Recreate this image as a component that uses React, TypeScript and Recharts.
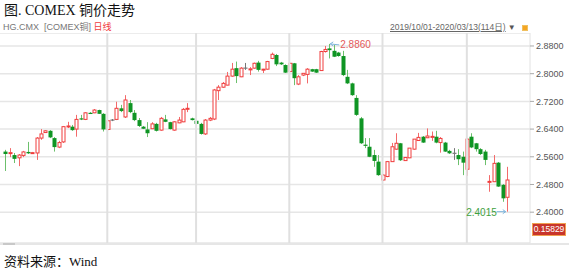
import React from "react";
import {
  ComposedChart, Bar, XAxis, YAxis, CartesianGrid, ReferenceLine, ReferenceDot,
} from "recharts";

// daily OHLC, COMEX copper, 2019/10/01 - 2020/03/13 (114 sessions)
const opens = [
  2.575, 2.570, 2.565, 2.557, 2.564, 2.574, 2.570, 2.571, 2.614, 2.630,
  2.635, 2.614, 2.588, 2.603, 2.647, 2.647, 2.640, 2.671, 2.668, 2.687,
  2.687, 2.695, 2.684, 2.639, 2.666, 2.668, 2.700, 2.675, 2.715, 2.687,
  2.666, 2.647, 2.639, 2.641, 2.655, 2.637, 2.668, 2.660, 2.637, 2.658,
  2.661, 2.699, 2.671, 2.664, 2.655, 2.626, 2.666, 2.669, 2.751, 2.761,
  2.767, 2.793, 2.816, 2.791, 2.816, 2.811, 2.816, 2.832, 2.811, 2.813,
  2.844, 2.854, 2.832, 2.825, 2.806, 2.830, 2.770, 2.796, 2.798, 2.813,
  2.813, 2.809, 2.864, 2.873, 2.866, 2.861, 2.851, 2.791, 2.772, 2.730,
  2.671, 2.595, 2.589, 2.565, 2.546, 2.493, 2.503, 2.546, 2.582, 2.599,
  2.549, 2.557, 2.582, 2.607, 2.618, 2.615, 2.616, 2.618, 2.601, 2.601,
  2.577, 2.570, 2.565, 2.560, 2.524, 2.618, 2.599, 2.582, 2.575, 2.487,
  2.488, 2.543, 2.479, 2.443,
];
const highs = [
  2.580, 2.585, 2.571, 2.568, 2.577, 2.603, 2.574, 2.617, 2.640, 2.637,
  2.637, 2.617, 2.606, 2.649, 2.661, 2.652, 2.681, 2.681, 2.689, 2.689,
  2.698, 2.696, 2.686, 2.666, 2.669, 2.719, 2.710, 2.738, 2.724, 2.695,
  2.672, 2.649, 2.660, 2.660, 2.658, 2.675, 2.681, 2.661, 2.663, 2.675,
  2.701, 2.715, 2.673, 2.665, 2.658, 2.669, 2.675, 2.756, 2.767, 2.776,
  2.805, 2.831, 2.835, 2.819, 2.831, 2.819, 2.832, 2.837, 2.814, 2.837,
  2.861, 2.857, 2.834, 2.827, 2.831, 2.831, 2.796, 2.802, 2.816, 2.814,
  2.814, 2.866, 2.880, 2.886, 2.883, 2.863, 2.866, 2.811, 2.774, 2.738,
  2.675, 2.614, 2.614, 2.580, 2.565, 2.510, 2.548, 2.600, 2.628, 2.600,
  2.559, 2.585, 2.611, 2.629, 2.620, 2.642, 2.633, 2.635, 2.617, 2.603,
  2.580, 2.585, 2.582, 2.575, 2.614, 2.628, 2.600, 2.585, 2.580, 2.507,
  2.565, 2.545, 2.481, 2.531,
];
const lows = [
  2.519, 2.559, 2.542, 2.533, 2.559, 2.568, 2.568, 2.551, 2.609, 2.629,
  2.614, 2.575, 2.585, 2.600, 2.643, 2.635, 2.618, 2.666, 2.666, 2.684,
  2.686, 2.684, 2.633, 2.637, 2.663, 2.666, 2.689, 2.672, 2.686, 2.663,
  2.646, 2.640, 2.617, 2.640, 2.633, 2.635, 2.660, 2.639, 2.635, 2.657,
  2.660, 2.689, 2.665, 2.652, 2.624, 2.623, 2.663, 2.666, 2.724, 2.759,
  2.766, 2.791, 2.773, 2.790, 2.811, 2.796, 2.814, 2.806, 2.802, 2.811,
  2.842, 2.822, 2.825, 2.802, 2.805, 2.767, 2.767, 2.793, 2.772, 2.805,
  2.802, 2.808, 2.861, 2.844, 2.848, 2.849, 2.793, 2.770, 2.736, 2.678,
  2.597, 2.585, 2.559, 2.531, 2.505, 2.490, 2.501, 2.545, 2.580, 2.548,
  2.548, 2.556, 2.580, 2.606, 2.600, 2.614, 2.606, 2.599, 2.572, 2.574,
  2.568, 2.551, 2.536, 2.507, 2.505, 2.585, 2.575, 2.565, 2.536, 2.459,
  2.487, 2.473, 2.430, 2.4015,
];
const closes = [
  2.568, 2.572, 2.554, 2.565, 2.574, 2.570, 2.572, 2.614, 2.626, 2.635,
  2.616, 2.588, 2.601, 2.647, 2.649, 2.637, 2.668, 2.668, 2.687, 2.686,
  2.695, 2.684, 2.639, 2.664, 2.666, 2.700, 2.692, 2.724, 2.689, 2.666,
  2.649, 2.641, 2.628, 2.655, 2.635, 2.671, 2.661, 2.640, 2.661, 2.666,
  2.697, 2.700, 2.666, 2.655, 2.626, 2.666, 2.671, 2.753, 2.761, 2.772,
  2.793, 2.813, 2.793, 2.816, 2.816, 2.814, 2.830, 2.811, 2.813, 2.835,
  2.856, 2.827, 2.827, 2.803, 2.830, 2.787, 2.791, 2.801, 2.813, 2.806,
  2.803, 2.864, 2.870, 2.868, 2.849, 2.851, 2.796, 2.772, 2.738, 2.681,
  2.599, 2.594, 2.560, 2.548, 2.507, 2.507, 2.546, 2.589, 2.599, 2.550,
  2.558, 2.585, 2.611, 2.616, 2.601, 2.620, 2.619, 2.601, 2.613, 2.575,
  2.570, 2.570, 2.553, 2.543, 2.611, 2.587, 2.582, 2.568, 2.551, 2.489,
  2.541, 2.474, 2.440, 2.493,
];

// first session of Nov, Dec, Jan, Feb, Mar
const monthStarts = [23, 43, 64, 85, 104];
const yTicks = [2.4, 2.48, 2.56, 2.64, 2.72, 2.8, 2.88];
const peak = { index: 73, value: 2.886 };
const trough = { index: 113, value: 2.4015 };
const lastIndicator = "0.15829";

const data = opens.map((o, i) => ({
  i,
  open: o,
  high: highs[i],
  low: lows[i],
  close: closes[i],
  range: [lows[i], highs[i]],
}));

const UP = "#f03c3c";
const DOWN = "#0f9524";
const FLAT = "#777777";

function Candle(props: any) {
  const { x, y, width, height, payload } = props;
  if (x == null || y == null) return null;
  const { open, close, high, low } = payload;
  const top = Math.min(y, y + height);
  const h = Math.abs(height);
  const span = high - low || 1;
  const toY = (v: number) => top + ((high - v) / span) * h;
  const cx = Math.round(x + width / 2) + 0.5;
  const bw = 3;
  const yo = toY(open);
  const yc = toY(close);
  const bTop = Math.min(yo, yc);
  const bBot = Math.max(yo, yc);
  if (close > open) {
    return (
      <g>
        <line x1={cx} x2={cx} y1={top} y2={bTop} stroke="#f36a6a" strokeWidth={1} />
        <line x1={cx} x2={cx} y1={bBot} y2={top + h} stroke="#f36a6a" strokeWidth={1} />
        <rect x={cx - bw / 2} y={bTop} width={bw} height={Math.max(bBot - bTop, 1)}
          fill="#fff" stroke={UP} strokeWidth={1} />
      </g>
    );
  }
  if (close < open) {
    return (
      <g>
        <line x1={cx} x2={cx} y1={top} y2={top + h} stroke="#6cc06c" strokeWidth={1} />
        <rect x={cx - bw / 2 - 0.5} y={bTop} width={bw + 1} height={Math.max(bBot - bTop, 1.2)}
          fill={DOWN} />
      </g>
    );
  }
  return (
    <g>
      <line x1={cx} x2={cx} y1={top} y2={top + h} stroke={FLAT} strokeWidth={1} />
      <line x1={cx - 2} x2={cx + 2} y1={yo} y2={yo} stroke={FLAT} strokeWidth={1.2} />
    </g>
  );
}

const PeakMark = (p: any) => (
  <g>
    <path d={`M${p.cx + 1} ${p.cy} l9 1 M${p.cx + 1} ${p.cy} l3 -2 M${p.cx + 1} ${p.cy} l3 2`}
      stroke="#7fb6dd" fill="none" strokeWidth={1} />
    <text x={p.cx + 11} y={p.cy + 4} fontSize={10} fill="#e45a5a"
      fontFamily="'Liberation Sans', Arial, sans-serif">{peak.value.toFixed(4)}</text>
  </g>
);

const TroughMark = (p: any) => (
  <g>
    <path d={`M${p.cx - 10} ${p.cy} L${p.cx - 1} ${p.cy} M${p.cx - 1} ${p.cy} l-3 -2 M${p.cx - 1} ${p.cy} l-3 2`}
      stroke="#7fb6dd" fill="none" strokeWidth={1} />
    <text x={p.cx - 10} y={p.cy + 4} fontSize={10} fill="#3ea13e" textAnchor="end"
      fontFamily="'Liberation Sans', Arial, sans-serif">{trough.value.toFixed(4)}</text>
  </g>
);

export default function App() {
  return (
    <div style={{ position: "relative", width: 569, height: 274, background: "#fff", overflow: "hidden" }}>
      <style>{"body{margin:0}"}</style>
      <div style={{
        position: "absolute", left: 4, top: 2, fontSize: 14, lineHeight: "18px", color: "#111",
        fontFamily: "'Liberation Serif', 'Noto Sans CJK SC', serif", whiteSpace: "nowrap",
      }}>
        图. COMEX 铜价走势
      </div>
      <div style={{
        position: "absolute", left: 3, top: 21, fontSize: 9, lineHeight: "12px", color: "#777",
        fontFamily: "'Liberation Sans', 'Noto Sans CJK SC', sans-serif", whiteSpace: "nowrap",
      }}>
        HG.CMX&nbsp;&nbsp;[COMEX铜]&nbsp;<span style={{ color: "#f03c3c" }}>日线</span>
      </div>
      <div style={{
        position: "absolute", left: 390, top: 21, fontSize: 8.5, lineHeight: "12px", color: "#666",
        fontFamily: "'Liberation Sans', 'Noto Sans CJK SC', sans-serif", whiteSpace: "nowrap",
      }}>
        <span style={{ textDecoration: "underline" }}>2019/10/01-2020/03/13(114日)</span>
        <span style={{ color: "#555", marginLeft: 2, fontSize: 8 }}>▼</span>
        <span style={{
          display: "inline-block", width: 4, height: 4, background: "#f5a623",
          border: "1px solid #f0c060", marginLeft: 6, verticalAlign: "middle",
        }} />
      </div>

      <div style={{ position: "absolute", left: 0, top: 33 }}>
        <ComposedChart width={569} height={210} data={data}
          margin={{ top: 0, right: 0, bottom: 0, left: 0 }}>
          <CartesianGrid horizontal vertical={false} stroke="#e6e6e6" strokeWidth={1.5} />
          <XAxis dataKey="i" type="category" hide padding={{ left: 3, right: 21 }} />
          <YAxis orientation="right" width={39} domain={[2.311, 2.9175]} ticks={yTicks}
            allowDataOverflow type="number"
            tick={{ fill: "#555", fontSize: 9, fontFamily: "'Liberation Sans', Arial, sans-serif" }}
            tickFormatter={(v: number) => v.toFixed(4)}
            tickSize={4} tickMargin={2}
            tickLine={{ stroke: "#aaa" }} axisLine={{ stroke: "#e2e2e2" }} />
          {monthStarts.map((m) => (
            <ReferenceLine key={m} x={m} stroke="#e0e0e0" strokeWidth={2} />
          ))}
          <Bar dataKey="range" shape={Candle} isAnimationActive={false} />
          <ReferenceDot x={peak.index} y={peak.value} r={0} shape={PeakMark} />
          <ReferenceDot x={trough.index} y={trough.value} r={0} shape={TroughMark} />
        </ComposedChart>
      </div>

      <div style={{
        position: "absolute", left: 533, top: 224, width: 32, height: 11, background: "#c8352b",
        boxShadow: "0 0 0 1px #f0a050", color: "#fff", fontSize: 8.5, lineHeight: "11px",
        textAlign: "center", fontFamily: "'Liberation Sans', Arial, sans-serif",
      }}>
        {lastIndicator}
      </div>
      <div style={{ position: "absolute", left: 0, top: 243, width: 569, height: 2, background: "#e6e6e6" }} />
      <div style={{ position: "absolute", left: 3, top: 243, width: 12, height: 2, background: "#c8c8c8" }} />
      <div style={{
        position: "absolute", left: 4, top: 254, fontSize: 13, lineHeight: "16px", color: "#111",
        fontFamily: "'Liberation Serif', 'Noto Sans CJK SC', serif", whiteSpace: "nowrap",
      }}>
        资料来源：Wind
      </div>
    </div>
  );
}
